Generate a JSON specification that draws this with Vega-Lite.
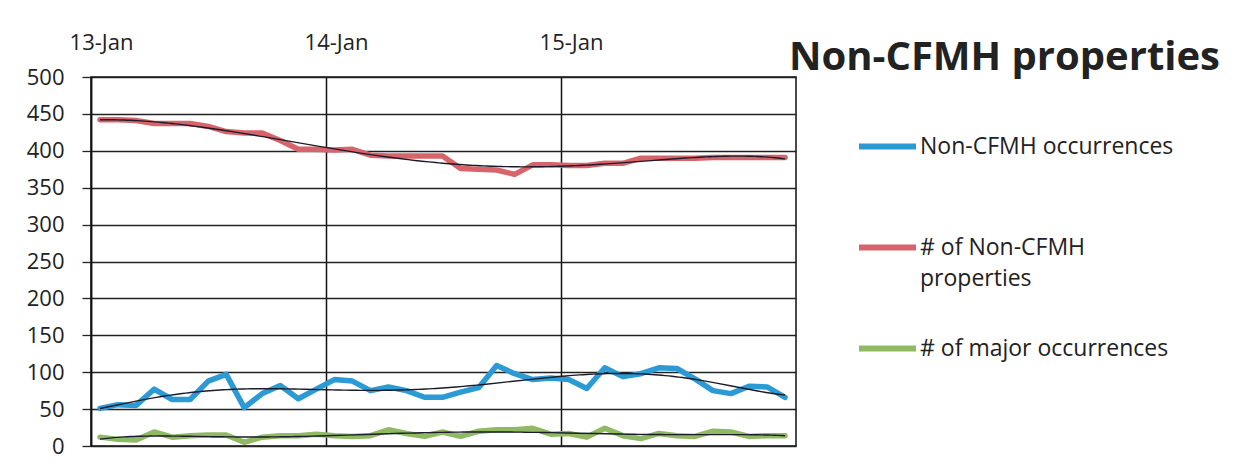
{
  "$schema": "https://vega.github.io/schema/vega-lite/v6.json",
  "width": 705,
  "height": 369,
  "autosize": {"type": "none"},
  "padding": {"left": 91, "top": 77, "right": 437, "bottom": 25},
  "background": "white",
  "config": {
    "font": "Open Sans",
    "view": {"stroke": "#111", "strokeWidth": 1.5},
    "style": {"guide-label": {"lineHeight": 31}}
  },
  "title": {
    "text": "Non-CFMH properties",
    "anchor": "end",
    "frame": "group",
    "fontSize": 40,
    "fontWeight": "bold",
    "color": "#222",
    "dx": 424,
    "dy": 79,
    "offset": 0,
    "baseline": "alphabetic"
  },
  "data": {
    "format": {"parse": {"date": "date"}},
    "values": [
      {"date": "2013-01-15", "series": "Non-CFMH occurrences", "value": 51},
      {"date": "2013-02-12", "series": "Non-CFMH occurrences", "value": 56},
      {"date": "2013-03-12", "series": "Non-CFMH occurrences", "value": 55},
      {"date": "2013-04-09", "series": "Non-CFMH occurrences", "value": 77},
      {"date": "2013-05-07", "series": "Non-CFMH occurrences", "value": 63},
      {"date": "2013-06-04", "series": "Non-CFMH occurrences", "value": 63},
      {"date": "2013-07-02", "series": "Non-CFMH occurrences", "value": 88},
      {"date": "2013-07-30", "series": "Non-CFMH occurrences", "value": 97},
      {"date": "2013-08-27", "series": "Non-CFMH occurrences", "value": 52},
      {"date": "2013-09-24", "series": "Non-CFMH occurrences", "value": 71},
      {"date": "2013-10-22", "series": "Non-CFMH occurrences", "value": 82},
      {"date": "2013-11-19", "series": "Non-CFMH occurrences", "value": 64},
      {"date": "2013-12-17", "series": "Non-CFMH occurrences", "value": 77},
      {"date": "2014-01-14", "series": "Non-CFMH occurrences", "value": 90},
      {"date": "2014-02-11", "series": "Non-CFMH occurrences", "value": 88},
      {"date": "2014-03-11", "series": "Non-CFMH occurrences", "value": 75},
      {"date": "2014-04-08", "series": "Non-CFMH occurrences", "value": 80},
      {"date": "2014-05-06", "series": "Non-CFMH occurrences", "value": 75},
      {"date": "2014-06-03", "series": "Non-CFMH occurrences", "value": 66},
      {"date": "2014-07-01", "series": "Non-CFMH occurrences", "value": 66},
      {"date": "2014-07-29", "series": "Non-CFMH occurrences", "value": 73},
      {"date": "2014-08-26", "series": "Non-CFMH occurrences", "value": 79},
      {"date": "2014-09-23", "series": "Non-CFMH occurrences", "value": 109},
      {"date": "2014-10-21", "series": "Non-CFMH occurrences", "value": 98},
      {"date": "2014-11-18", "series": "Non-CFMH occurrences", "value": 90},
      {"date": "2014-12-16", "series": "Non-CFMH occurrences", "value": 92},
      {"date": "2015-01-13", "series": "Non-CFMH occurrences", "value": 90},
      {"date": "2015-02-10", "series": "Non-CFMH occurrences", "value": 78},
      {"date": "2015-03-10", "series": "Non-CFMH occurrences", "value": 106},
      {"date": "2015-04-07", "series": "Non-CFMH occurrences", "value": 94},
      {"date": "2015-05-05", "series": "Non-CFMH occurrences", "value": 98},
      {"date": "2015-06-02", "series": "Non-CFMH occurrences", "value": 106},
      {"date": "2015-06-30", "series": "Non-CFMH occurrences", "value": 105},
      {"date": "2015-07-28", "series": "Non-CFMH occurrences", "value": 91},
      {"date": "2015-08-25", "series": "Non-CFMH occurrences", "value": 75},
      {"date": "2015-09-22", "series": "Non-CFMH occurrences", "value": 71},
      {"date": "2015-10-20", "series": "Non-CFMH occurrences", "value": 81},
      {"date": "2015-11-17", "series": "Non-CFMH occurrences", "value": 80},
      {"date": "2015-12-15", "series": "Non-CFMH occurrences", "value": 66},
      {"date": "2013-01-15", "series": "# of Non-CFMH properties", "value": 442},
      {"date": "2013-02-12", "series": "# of Non-CFMH properties", "value": 442},
      {"date": "2013-03-12", "series": "# of Non-CFMH properties", "value": 441},
      {"date": "2013-04-09", "series": "# of Non-CFMH properties", "value": 437},
      {"date": "2013-05-07", "series": "# of Non-CFMH properties", "value": 437},
      {"date": "2013-06-04", "series": "# of Non-CFMH properties", "value": 437},
      {"date": "2013-07-02", "series": "# of Non-CFMH properties", "value": 433},
      {"date": "2013-07-30", "series": "# of Non-CFMH properties", "value": 426},
      {"date": "2013-08-27", "series": "# of Non-CFMH properties", "value": 424},
      {"date": "2013-09-24", "series": "# of Non-CFMH properties", "value": 424},
      {"date": "2013-10-22", "series": "# of Non-CFMH properties", "value": 414},
      {"date": "2013-11-19", "series": "# of Non-CFMH properties", "value": 402},
      {"date": "2013-12-17", "series": "# of Non-CFMH properties", "value": 402},
      {"date": "2014-01-14", "series": "# of Non-CFMH properties", "value": 401},
      {"date": "2014-02-11", "series": "# of Non-CFMH properties", "value": 402},
      {"date": "2014-03-11", "series": "# of Non-CFMH properties", "value": 394},
      {"date": "2014-04-08", "series": "# of Non-CFMH properties", "value": 393},
      {"date": "2014-05-06", "series": "# of Non-CFMH properties", "value": 393},
      {"date": "2014-06-03", "series": "# of Non-CFMH properties", "value": 393},
      {"date": "2014-07-01", "series": "# of Non-CFMH properties", "value": 393},
      {"date": "2014-07-29", "series": "# of Non-CFMH properties", "value": 376},
      {"date": "2014-08-26", "series": "# of Non-CFMH properties", "value": 375},
      {"date": "2014-09-23", "series": "# of Non-CFMH properties", "value": 374},
      {"date": "2014-10-21", "series": "# of Non-CFMH properties", "value": 368},
      {"date": "2014-11-18", "series": "# of Non-CFMH properties", "value": 381},
      {"date": "2014-12-16", "series": "# of Non-CFMH properties", "value": 381},
      {"date": "2015-01-13", "series": "# of Non-CFMH properties", "value": 380},
      {"date": "2015-02-10", "series": "# of Non-CFMH properties", "value": 380},
      {"date": "2015-03-10", "series": "# of Non-CFMH properties", "value": 383},
      {"date": "2015-04-07", "series": "# of Non-CFMH properties", "value": 383},
      {"date": "2015-05-05", "series": "# of Non-CFMH properties", "value": 390},
      {"date": "2015-06-02", "series": "# of Non-CFMH properties", "value": 390},
      {"date": "2015-06-30", "series": "# of Non-CFMH properties", "value": 390},
      {"date": "2015-07-28", "series": "# of Non-CFMH properties", "value": 390},
      {"date": "2015-08-25", "series": "# of Non-CFMH properties", "value": 391},
      {"date": "2015-09-22", "series": "# of Non-CFMH properties", "value": 391},
      {"date": "2015-10-20", "series": "# of Non-CFMH properties", "value": 391},
      {"date": "2015-11-17", "series": "# of Non-CFMH properties", "value": 391},
      {"date": "2015-12-15", "series": "# of Non-CFMH properties", "value": 391},
      {"date": "2013-01-15", "series": "# of major occurrences", "value": 12},
      {"date": "2013-02-12", "series": "# of major occurrences", "value": 9},
      {"date": "2013-03-12", "series": "# of major occurrences", "value": 8},
      {"date": "2013-04-09", "series": "# of major occurrences", "value": 19},
      {"date": "2013-05-07", "series": "# of major occurrences", "value": 12},
      {"date": "2013-06-04", "series": "# of major occurrences", "value": 14},
      {"date": "2013-07-02", "series": "# of major occurrences", "value": 15},
      {"date": "2013-07-30", "series": "# of major occurrences", "value": 15},
      {"date": "2013-08-27", "series": "# of major occurrences", "value": 5},
      {"date": "2013-09-24", "series": "# of major occurrences", "value": 12},
      {"date": "2013-10-22", "series": "# of major occurrences", "value": 14},
      {"date": "2013-11-19", "series": "# of major occurrences", "value": 14},
      {"date": "2013-12-17", "series": "# of major occurrences", "value": 16},
      {"date": "2014-01-14", "series": "# of major occurrences", "value": 14},
      {"date": "2014-02-11", "series": "# of major occurrences", "value": 13},
      {"date": "2014-03-11", "series": "# of major occurrences", "value": 14},
      {"date": "2014-04-08", "series": "# of major occurrences", "value": 22},
      {"date": "2014-05-06", "series": "# of major occurrences", "value": 17},
      {"date": "2014-06-03", "series": "# of major occurrences", "value": 13},
      {"date": "2014-07-01", "series": "# of major occurrences", "value": 19},
      {"date": "2014-07-29", "series": "# of major occurrences", "value": 13},
      {"date": "2014-08-26", "series": "# of major occurrences", "value": 20},
      {"date": "2014-09-23", "series": "# of major occurrences", "value": 22},
      {"date": "2014-10-21", "series": "# of major occurrences", "value": 22},
      {"date": "2014-11-18", "series": "# of major occurrences", "value": 24},
      {"date": "2014-12-16", "series": "# of major occurrences", "value": 16},
      {"date": "2015-01-13", "series": "# of major occurrences", "value": 17},
      {"date": "2015-02-10", "series": "# of major occurrences", "value": 12},
      {"date": "2015-03-10", "series": "# of major occurrences", "value": 24},
      {"date": "2015-04-07", "series": "# of major occurrences", "value": 14},
      {"date": "2015-05-05", "series": "# of major occurrences", "value": 10},
      {"date": "2015-06-02", "series": "# of major occurrences", "value": 17},
      {"date": "2015-06-30", "series": "# of major occurrences", "value": 14},
      {"date": "2015-07-28", "series": "# of major occurrences", "value": 13},
      {"date": "2015-08-25", "series": "# of major occurrences", "value": 20},
      {"date": "2015-09-22", "series": "# of major occurrences", "value": 19},
      {"date": "2015-10-20", "series": "# of major occurrences", "value": 13},
      {"date": "2015-11-17", "series": "# of major occurrences", "value": 14},
      {"date": "2015-12-15", "series": "# of major occurrences", "value": 14}
    ]
  },
  "encoding": {
    "x": {
      "field": "date",
      "type": "temporal",
      "scale": {"domain": [{"year": 2013, "month": 1, "date": 1}, {"year": 2016, "month": 1, "date": 1}]},
      "axis": {
        "orient": "top",
        "title": null,
        "values": [{"year": 2013, "month": 1, "date": 1}, {"year": 2014, "month": 1, "date": 1}, {"year": 2015, "month": 1, "date": 1}],
        "format": "%y-%b",
        "labelOffset": 10,
        "labelFontSize": 22,
        "labelColor": "#222",
        "labelPadding": 28,
        "labelBaseline": "alphabetic",
        "labelFlush": false,
        "labelOverlap": false,
        "grid": true,
        "gridColor": "#111",
        "gridWidth": 1.5,
        "gridOpacity": 1,
        "ticks": false,
        "tickSize": 0,
        "domain": false
      }
    },
    "y": {
      "field": "value",
      "type": "quantitative",
      "scale": {"domain": [0, 500]},
      "axis": {
        "title": null,
        "values": [0, 50, 100, 150, 200, 250, 300, 350, 400, 450, 500],
        "labelOverlap": false,
        "labelFontSize": 22,
        "labelColor": "#222",
        "labelPadding": 18,
        "tickSize": 9,
        "tickColor": "#222",
        "tickWidth": 1.3,
        "domainColor": "#111",
        "domainWidth": 1.5,
        "grid": true,
        "gridColor": "#222",
        "gridWidth": 1.3,
        "gridOpacity": 1
      }
    }
  },
  "layer": [
    {
      "mark": {"type": "line", "strokeWidth": 5.5, "strokeJoin": "round", "strokeCap": "round"},
      "encoding": {
        "color": {
          "field": "series",
          "type": "nominal",
          "scale": {
            "domain": ["Non-CFMH occurrences", "# of Non-CFMH properties", "# of major occurrences"],
            "range": ["#2B9AD5", "#D7646A", "#8FBA63"]
          },
          "legend": {
            "orient": "none",
            "legendX": 765,
            "legendY": 38,
            "title": null,
            "padding": 0,
            "symbolType": "stroke",
            "symbolSize": 3249,
            "symbolStrokeWidth": 6,
            "labelFontSize": 23,
            "labelColor": "#222",
            "labelOffset": 1,
            "labelLimit": 400,
            "rowPadding": 26,
            "labelExpr": "datum.label == '# of Non-CFMH properties' ? ['# of Non-CFMH', 'properties'] : [datum.label, '']"
          }
        }
      }
    },
    {
      "transform": [{"regression": "value", "on": "date", "groupby": ["series"], "method": "poly", "order": 6}],
      "mark": {"type": "line", "strokeWidth": 1.4, "color": "#1b1b2a"},
      "encoding": {
        "detail": {"field": "series"}
      }
    }
  ]
}
